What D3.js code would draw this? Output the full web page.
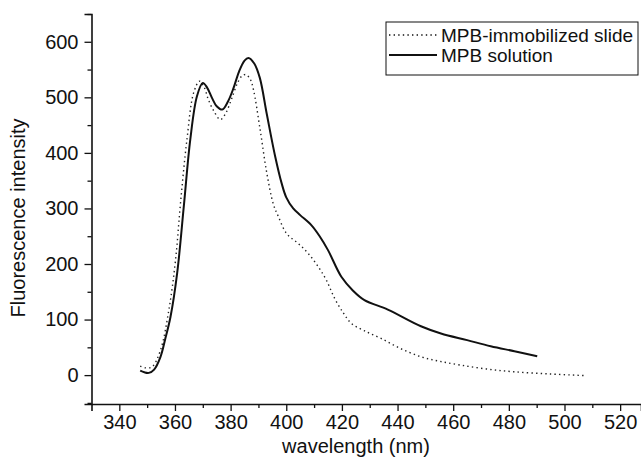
<!DOCTYPE html>
<html>
<head>
<meta charset="utf-8">
<script src="https://cdn.jsdelivr.net/npm/d3@7"></script>
<style>
  body { margin: 0; background: #fff; }
  svg text { font-family: "Liberation Sans", Arial, sans-serif; fill: #111; }
</style>
</head>
<body>
<div class="chart"></div>
<script>
var width = 641,
height = 469;

// MPB-immobilized slide (dotted)
var slideX = [347.5, 349.5, 351.8, 354.8, 357.8, 360.2, 362, 364.3, 366.7, 368.8, 370.5, 372, 374, 376.3, 378.3, 380.4, 382.6, 384.2, 385.5, 387, 388.2, 390.6, 393, 395.4, 397.2, 400.1, 404.3, 407.9, 411.5, 414.4, 417.4, 420.5, 423.4, 428, 434.1, 441, 448.4, 455, 462.7, 472, 481.8, 495, 508];
var slideY = [16, 13, 15, 45, 117, 207, 310, 424, 508, 529, 518, 496, 475, 460, 472, 498, 527, 539, 541, 533, 514, 442, 364, 307, 285, 255, 237, 219, 195, 171, 138, 112, 93, 80, 66, 48, 33, 25, 18, 11, 6, 2, -1];

// MPB solution (solid)
var solX = [347.5, 349, 350.6, 352.5, 354.8, 356.5, 358.4, 360.8, 363.2, 365.5, 367.9, 370, 371.5, 373.3, 375, 377, 379, 381, 383, 385, 386.4, 388.5, 390.5, 393, 396, 398.3, 400, 402.5, 405, 409, 412, 415, 419.8, 424, 428.1, 436.5, 448.4, 455.6, 465, 473.5, 482, 490.2];
var solY = [8, 5, 4, 10, 33, 65, 105, 184, 305, 424, 502, 526, 518, 499, 484, 478, 492, 516, 546, 566, 571, 561, 535, 470, 394, 346, 320, 300, 288, 270, 250, 225, 177, 152, 135, 118, 88, 75, 63, 52, 43, 34];

var xMajor = [340, 360, 380, 400, 420, 440, 460, 480, 500, 520];
var xMinor = [350, 370, 390, 410, 430, 450, 470, 490, 510];
var yMajor = [0, 100, 200, 300, 400, 500, 600];
var yMinor = [-50, 50, 150, 250, 350, 450, 550, 650];

var legendNames = ["MPB-immobilized slide", "MPB solution"];

var x = d3.scaleLinear().domain([330, 527.5]).range([91.5, 641]);
var y = d3.scaleLinear().domain([-52, 650]).range([404, 14]);

var svg = d3.select(".chart").append("svg")
  .attr("width", width)
  .attr("height", height);

// axes
var xAxis = svg.append("g").attr("transform", "translate(0," + y(-52) + ")");
xAxis.call(d3.axisBottom(x).tickValues(xMajor).tickSize(7).tickPadding(4));
xAxis.append("g").call(d3.axisBottom(x).tickValues(xMinor).tickSize(4).tickFormat(""))
  .select(".domain").remove();

var yAxis = svg.append("g").attr("transform", "translate(" + x(330) + ",0)");
yAxis.call(d3.axisLeft(y).tickValues(yMajor).tickSize(7).tickPadding(6));
yAxis.append("g").call(d3.axisLeft(y).tickValues(yMinor).tickSize(4).tickFormat(""))
  .select(".domain").remove();

svg.selectAll(".domain").attr("stroke", "#111").attr("stroke-width", 1.6);
svg.selectAll(".tick line").attr("stroke", "#111").attr("stroke-width", 1.3);
svg.selectAll(".tick text").style("font-size", "20px").attr("fill", "#111");

// axis titles
svg.append("text")
  .attr("x", 356).attr("y", 453)
  .attr("text-anchor", "middle")
  .style("font-size", "20px")
  .text("wavelength (nm)");

svg.append("text")
  .attr("transform", "translate(25,218) rotate(-90)")
  .attr("text-anchor", "middle")
  .style("font-size", "20px")
  .text("Fluorescence intensity");

// curves
var line = d3.line()
  .x(function(d){ return x(d[0]); })
  .y(function(d){ return y(d[1]); })
  .curve(d3.curveCatmullRom.alpha(0.5));

svg.append("path")
  .datum(d3.zip(slideX, slideY))
  .attr("fill", "none")
  .attr("stroke", "#222")
  .attr("stroke-width", 1.4)
  .attr("stroke-dasharray", "1.4,3.2")
  .attr("d", line);

svg.append("path")
  .datum(d3.zip(solX, solY))
  .attr("fill", "none")
  .attr("stroke", "#111")
  .attr("stroke-width", 2)
  .attr("d", line);

// legend
var legend = svg.append("g");
legend.append("rect")
  .attr("x", 386).attr("y", 22)
  .attr("width", 252).attr("height", 53)
  .attr("fill", "#fff")
  .attr("stroke", "#111")
  .attr("stroke-width", 1);

legend.selectAll("line.key")
  .data(legendNames)
  .enter().append("line").attr("class", "key")
  .attr("x1", 389).attr("x2", 437)
  .attr("y1", function(d, i){ return 35 + i*20; })
  .attr("y2", function(d, i){ return 35 + i*20; })
  .attr("stroke", "#111")
  .attr("stroke-width", function(d, i){ return i ? 2 : 1.4; })
  .attr("stroke-dasharray", function(d, i){ return i ? null : "1.4,3.2"; });

legend.selectAll("text.key")
  .data(legendNames)
  .enter().append("text").attr("class", "key")
  .attr("x", 441)
  .attr("y", function(d, i){ return 35 + i*20; })
  .attr("dy", "0.35em")
  .style("font-size", "19px")
  .text(function(d){ return d; });
</script>
</body>
</html>
